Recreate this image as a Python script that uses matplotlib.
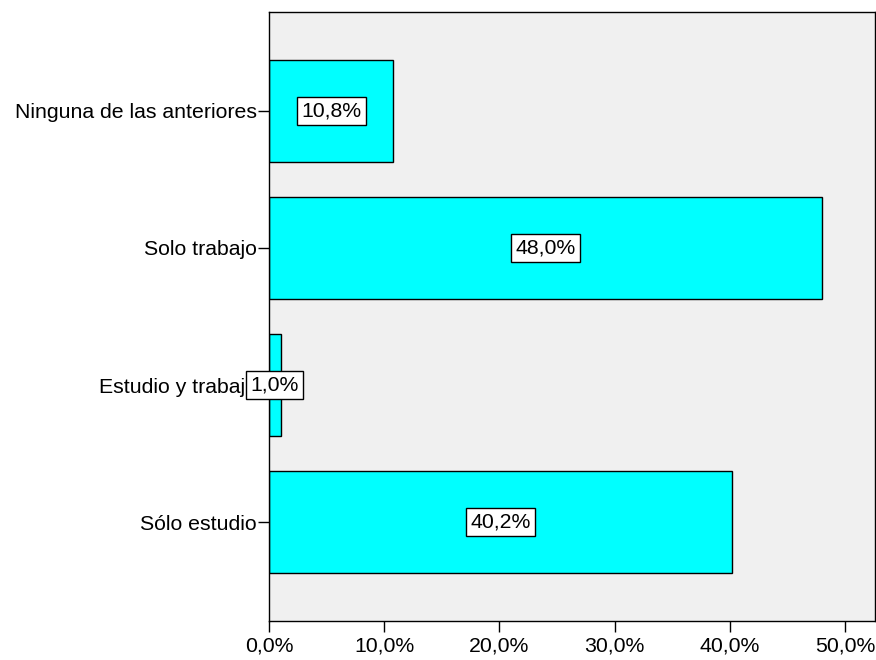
import matplotlib
matplotlib.use("Agg")
import matplotlib.pyplot as plt
from matplotlib.ticker import FuncFormatter

categories = ["Sólo estudio", "Estudio y trabajo", "Solo trabajo", "Ninguna de las anteriores"]
values = [40.2, 1.0, 48.0, 10.8]
xticks = [0, 10, 20, 30, 40, 50]

plt.rcParams['font.family'] = ['Liberation Sans', 'DejaVu Sans']

fig = plt.figure(figsize=(8.76, 6.6), dpi=100)
ax = fig.add_axes([0.3071, 0.0591, 0.6918, 0.9227])
ax.set_facecolor('#f0f0f0')

pos = list(range(len(categories)))
ax.barh(pos, values, height=0.745, color='#00ffff', edgecolor='black', linewidth=1.0, zorder=2)
for p, v in zip(pos, values):
    ax.text(v / 2, p, f"{v:.1f}%".replace('.', ','), ha='center', va='center', fontsize=15.3,
            bbox=dict(boxstyle='square,pad=0.2', facecolor='white', edgecolor='black', linewidth=1.0), zorder=3)

ax.set_yticks(pos)
ax.set_yticklabels(categories, fontsize=15.3)
ax.set_ylim(-0.72, 3.72)
ax.set_xlim(0, 52.6)
ax.set_xticks(xticks)
ax.xaxis.set_major_formatter(FuncFormatter(lambda x, _: f"{x:.1f}%".replace('.', ',')))
ax.tick_params(axis='x', labelsize=15.3, direction='out', length=8, width=1, pad=3)
ax.tick_params(axis='y', direction='out', length=8, width=1, pad=1)
for s in ax.spines.values():
    s.set_linewidth(1.0)
    s.set_color('black')

fig.savefig('out.png', dpi=100)
